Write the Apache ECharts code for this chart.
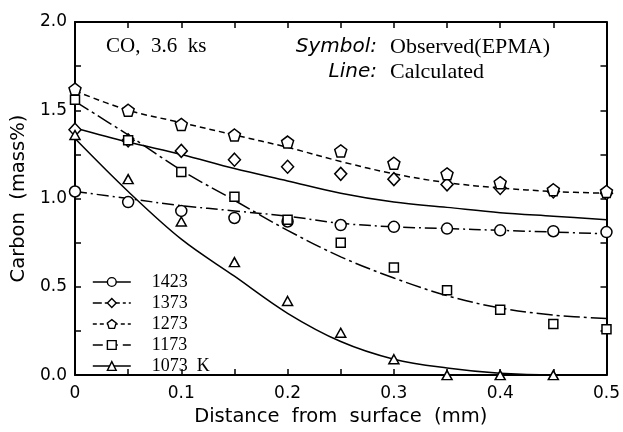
<!DOCTYPE html>
<html><head><meta charset="utf-8">
<script src="https://cdn.jsdelivr.net/npm/echarts@6/dist/echarts.min.js"></script>
<style>html,body{margin:0;padding:0;background:#fff}#c{width:623px;height:432px}</style>
</head><body><div id="c"></div>
<script>
// ---- data ----
const xs = [0, 0.05, 0.1, 0.15, 0.2, 0.25, 0.3, 0.35, 0.4, 0.45, 0.5];
const names = ['1423', '1373', '1273', '1173', '1073'];
// observed (EPMA)
const obs1423 = [1.04, 0.98, 0.93, 0.89, 0.87, 0.85, 0.84, 0.83, 0.82, 0.815, 0.81];
const obs1373 = [1.39, 1.33, 1.27, 1.22, 1.18, 1.14, 1.11, 1.08, 1.06, 1.04, 1.03];
const obs1273 = [1.62, 1.50, 1.42, 1.36, 1.32, 1.27, 1.20, 1.14, 1.09, 1.05, 1.04];
const obs1173 = [1.56, 1.33, 1.15, 1.01, 0.88, 0.75, 0.61, 0.48, 0.37, 0.29, 0.26];
const obs1073 = [1.36, 1.11, 0.87, 0.64, 0.42, 0.24, 0.09, 0.0, 0.0, 0.0, null];
// calculated
const calc1423 = [1.04, 1.00, 0.96, 0.93, 0.90, 0.86, 0.84, 0.83, 0.82, 0.81, 0.80];
const calc1373 = [1.40, 1.32, 1.25, 1.17, 1.10, 1.03, 0.98, 0.95, 0.92, 0.90, 0.88];
const calc1273 = [1.61, 1.50, 1.43, 1.36, 1.29, 1.21, 1.14, 1.09, 1.06, 1.04, 1.03];
const calc1173 = [1.55, 1.36, 1.16, 0.99, 0.82, 0.67, 0.55, 0.45, 0.38, 0.34, 0.32];
const calc1073 = [1.34, 1.04, 0.77, 0.56, 0.35, 0.19, 0.09, 0.04, 0.01, 0.0, 0.0];
const xTicks = [0, 0.1, 0.2, 0.3, 0.4, 0.5];
const yTicks = [0, 0.5, 1.0, 1.5, 2.0];

// ---- build ----
const pentagon = 'path://M0,-1 L0.951,-0.309 L0.588,0.809 L-0.588,0.809 L-0.951,-0.309 Z';
const symbols = ['circle', 'diamond', pentagon, 'rect', 'triangle'];
const symSizes = [11, [12, 13], 12, 9, [10, 9]];
const obs = [obs1423, obs1373, obs1273, obs1173, obs1073];
const calc = [calc1423, calc1373, calc1273, calc1173, calc1073];
const plotDash = ['dashdot1', 'solid', [6, 4], 'dashdot2', 'solid'];
const dashMap = { dashdot1: [12, 4, 2, 4], dashdot2: [16, 4, 3, 4] };
const legendDash = ['solid', [9, 3, 3, 3], [4, 3], [10, 5], 'solid'];
const zip = a => xs.map((x, i) => [x, a[i]]).filter(p => p[1] !== null);

const series = [];
names.forEach((n, k) => {
  const t = plotDash[k];
  series.push({
    name: n, type: 'line', data: zip(calc[k]), smooth: 0.35,
    showSymbol: false, symbol: symbols[k], symbolSize: symSizes[k],
    itemStyle: { color: '#fff', borderColor: '#000', borderWidth: 1.3 },
    lineStyle: { color: '#000', width: 1.5, type: dashMap[t] || t },
    z: 2, animation: false, silent: true
  });
});
names.forEach((n, k) => {
  series.push({
    name: n + ' obs', type: 'scatter', data: zip(obs[k]),
    symbol: symbols[k], symbolSize: symSizes[k],
    itemStyle: { color: '#fff', borderColor: '#000', borderWidth: 1.5, opacity: 1 },
    z: 3, animation: false, silent: true
  });
});

const tickStyle = { show: true, inside: true, length: 6, lineStyle: { color: '#000', width: 1.5 } };
const minorStyle = { show: true, splitNumber: 2, length: 6, lineStyle: { color: '#000', width: 1.5 } };
const lineAx = { show: true, onZero: false, lineStyle: { color: '#000', width: 2 } };
const labFont = { color: '#000', fontSize: 17, fontFamily: '"DejaVu Sans", sans-serif' };
const nameFont = { color: '#000', fontSize: 19.5, fontFamily: '"DejaVu Sans", sans-serif' };

const option = {
  backgroundColor: '#fff',
  animation: false,
  grid: { left: 75, right: 16, top: 22, bottom: 48, containLabel: false },
  xAxis: [{
    type: 'value', min: 0, max: 0.5, interval: 0.1, position: 'bottom',
    name: 'Distance  from  surface  (mm)', nameLocation: 'middle', nameGap: 29,
    nameTextStyle: nameFont,
    axisLine: lineAx, axisTick: tickStyle, minorTick: minorStyle, splitLine: { show: false },
    axisLabel: Object.assign({}, labFont, { margin: 10, formatter: v => { const t = xTicks.find(q => Math.abs(q - v) < 1e-9); return t === 0 ? '0' : t.toFixed(1); } })
  }, {
    type: 'value', min: 0, max: 0.5, interval: 0.1, position: 'top',
    axisLine: lineAx, axisTick: tickStyle, minorTick: minorStyle, splitLine: { show: false },
    axisLabel: { show: false }
  }],
  yAxis: [{
    type: 'value', min: 0, max: 2, interval: 0.5, position: 'left',
    name: 'Carbon  (mass%)', nameLocation: 'middle', nameGap: 46, nameRotate: 90,
    nameTextStyle: nameFont,
    axisLine: lineAx, axisTick: tickStyle, minorTick: minorStyle, splitLine: { show: false },
    axisLabel: Object.assign({}, labFont, { margin: 8, formatter: v => { const t = yTicks.find(q => Math.abs(q - v) < 1e-9); return t.toFixed(1); } })
  }, {
    type: 'value', min: 0, max: 2, interval: 0.5, position: 'right',
    axisLine: lineAx, axisTick: tickStyle, minorTick: minorStyle, splitLine: { show: false },
    axisLabel: { show: false }
  }],
  legend: {
    orient: 'vertical', left: 87, top: 268, itemWidth: 38, itemHeight: 11, itemGap: 3,
    selectedMode: false,
    data: names.map((n, k) => ({ name: n, lineStyle: { type: legendDash[k], width: 1.6, color: '#000' }, itemStyle: { color: '#fff', borderColor: '#000', borderWidth: 1.4 } })),
    formatter: n => n === '1073' ? '1073  K' : n,
    textStyle: { color: '#000', fontSize: 18, lineHeight: 15, fontFamily: '"Liberation Serif", "Times New Roman", serif', padding: [0, 0, 0, 16] }
  },
  graphic: [
    { type: 'text', x: 106, y: 46, style: { text: 'CO,  3.6  ks', font: '21px "Liberation Serif", serif', fill: '#000', verticalAlign: 'middle', align: 'left' } },
    { type: 'text', x: 377, y: 47, style: { text: 'Symbol:', font: 'oblique 20px "DejaVu Sans", sans-serif', fill: '#000', verticalAlign: 'middle', align: 'right' } },
    { type: 'text', x: 390, y: 47, style: { text: 'Observed(EPMA)', font: '22px "Liberation Serif", serif', fill: '#000', verticalAlign: 'middle', align: 'left' } },
    { type: 'text', x: 377, y: 72, style: { text: 'Line:', font: 'oblique 20px "DejaVu Sans", sans-serif', fill: '#000', verticalAlign: 'middle', align: 'right' } },
    { type: 'text', x: 390, y: 72, style: { text: 'Calculated', font: '22px "Liberation Serif", serif', fill: '#000', verticalAlign: 'middle', align: 'left' } }
  ],
  series: series
};
const chart = echarts.init(document.getElementById('c'), null, { renderer: 'canvas' });
chart.setOption(option);
</script>
</body></html>
